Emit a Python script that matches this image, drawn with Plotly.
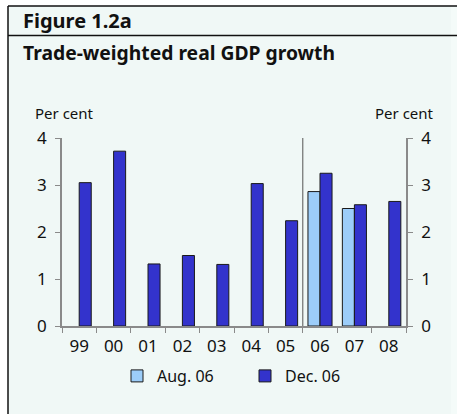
import plotly.graph_objects as go

# Trade-weighted real GDP growth, per cent, by year
years = ["99", "00", "01", "02", "03", "04", "05", "06", "07", "08"]
aug_06 = [None, None, None, None, None, None, None, 2.86, 2.50, None]
dec_06 = [3.05, 3.72, 1.32, 1.50, 1.31, 3.03, 2.24, 3.25, 2.58, 2.65]
y_ticks = [0, 1, 2, 3, 4]
projection_start = "06"

W, H = 457, 414
L, R, T, B = 62, 51, 138, 88
PW, PH = W - L - R, H - T - B

FONT = "Noto Sans"
AXIS_GREY = "#8a8a8a"
BG = "#f0f8f6"


def px(x):
    return (x - L) / PW


def py(y):
    return (H - B - y) / PH


fig = go.Figure()
fig.add_trace(go.Bar(
    x=years, y=aug_06, name="Aug. 06",
    marker=dict(color="#9ccdf9", line=dict(color="#1a1a1a", width=1)),
))
fig.add_trace(go.Bar(
    x=years, y=dec_06, name="Dec. 06",
    marker=dict(color="#3333cc", line=dict(color="#1a1a1a", width=1)),
))
# invisible trace carrying the right-hand axis
fig.add_trace(go.Scatter(x=years, y=dec_06, yaxis="y2", mode="markers",
                         marker=dict(opacity=0), showlegend=False,
                         hoverinfo="skip"))

shapes = [
    # panel background and frame
    dict(type="rect", xref="paper", yref="paper", x0=px(8), x1=px(451),
         y0=py(414), y1=py(6), fillcolor=BG, line=dict(width=0), layer="below"),
    dict(type="rect", xref="paper", yref="paper", x0=px(451), x1=px(457),
         y0=py(414), y1=py(6), fillcolor="#f4fbf9", line=dict(width=0), layer="below"),
    dict(type="line", xref="paper", yref="paper", x0=px(8), x1=px(457),
         y0=py(6), y1=py(6), line=dict(color="#111111", width=1.5)),
    dict(type="line", xref="paper", yref="paper", x0=px(8), x1=px(457),
         y0=py(35.5), y1=py(35.5), line=dict(color="#111111", width=1.5)),
    dict(type="line", xref="paper", yref="paper", x0=px(8), x1=px(8),
         y0=py(414), y1=py(6), line=dict(color="#111111", width=1.5)),
    # divider between outturns and projections
    dict(type="line", xref="x", yref="y",
         x0=years.index(projection_start) - 0.5, x1=years.index(projection_start) - 0.5,
         y0=0, y1=max(y_ticks), line=dict(color="#555555", width=1)),
]

annotations = [
    dict(text="Figure 1.2a", xref="paper", yref="paper", x=px(21), y=py(20),
         xanchor="left", yanchor="middle", showarrow=False,
         font=dict(family=FONT, size=20, color="#111111", weight="bold")),
    dict(text="Trade-weighted real GDP growth", xref="paper", yref="paper",
         x=px(21), y=py(52), xanchor="left", yanchor="middle", showarrow=False,
         font=dict(family=FONT, size=19.3, color="#111111", weight="bold")),
    dict(text="Per cent", xref="paper", yref="paper", x=px(64), y=py(113),
         xanchor="center", yanchor="middle", showarrow=False,
         font=dict(family=FONT, size=15, color="#111111")),
    dict(text="Per cent", xref="paper", yref="paper", x=px(404), y=py(113),
         xanchor="center", yanchor="middle", showarrow=False,
         font=dict(family=FONT, size=15, color="#111111")),
]

axis_font = dict(family=FONT, size=17, color="#111111")

fig.update_layout(
    width=W, height=H,
    margin=dict(l=L, r=R, t=T, b=B, pad=0),
    paper_bgcolor="white", plot_bgcolor=BG,
    barmode="group", bargap=0.3, bargroupgap=0,
    showlegend=True,
    legend=dict(orientation="h", x=px(245), y=py(376), xanchor="center",
                yanchor="middle", font=dict(family=FONT, size=16, color="#111111"),
                bgcolor="rgba(0,0,0,0)", entrywidth=83, entrywidthmode="pixels",
                traceorder="normal"),
    xaxis=dict(type="category", range=[-0.5, len(years) - 0.5],
               tickson="boundaries", ticks="outside", ticklen=5, tickcolor=AXIS_GREY,
               showline=True, linecolor=AXIS_GREY, linewidth=1.5, showgrid=False,
               tickfont=axis_font, ticklabelstandoff=4, zeroline=False),
    yaxis=dict(range=[0, 4], tickvals=y_ticks, ticks="outside", ticklen=5,
               tickcolor=AXIS_GREY, showline=True, linecolor=AXIS_GREY, linewidth=1.5,
               showgrid=False, zeroline=False, tickfont=axis_font,
               ticklabelstandoff=5),
    yaxis2=dict(range=[0, 4], tickvals=y_ticks, overlaying="y", side="right",
                ticks="outside", ticklen=5, tickcolor=AXIS_GREY, showline=True,
                linecolor=AXIS_GREY, linewidth=1.5, showgrid=False, zeroline=False,
                tickfont=axis_font, ticklabelstandoff=5),
    shapes=shapes, annotations=annotations,
)

fig.write_html("out.html")
